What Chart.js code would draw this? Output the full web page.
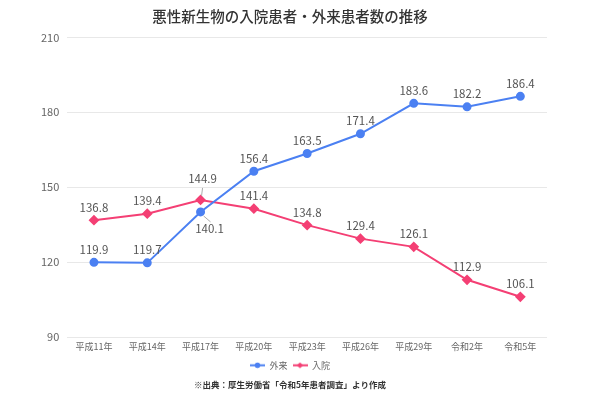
<!DOCTYPE html>
<html>
<head>
<meta charset="utf-8">
<script src="https://cdn.jsdelivr.net/npm/chart.js@4"></script>
<style>
  html, body { margin: 0; padding: 0; background: #fff; }
  #wrap { width: 592px; height: 405px; }
</style>
</head>
<body>
<div id="wrap"><canvas id="chart"></canvas></div>
<script>
var FONT = "'Noto Sans CJK JP', 'Noto Sans', sans-serif";

var years = ['平成11年', '平成14年', '平成17年', '平成20年', '平成23年', '平成26年', '平成29年', '令和2年', '令和5年'];
var outpatient = [119.9, 119.7, 140.1, 156.4, 163.5, 171.4, 183.6, 182.2, 186.4];
var inpatient = [136.8, 139.4, 144.9, 141.4, 134.8, 129.4, 126.1, 112.9, 106.1];
var yTicks = [90, 120, 150, 180, 210];

var BLUE = '#4b80f2';
var PINK = '#f43f74';

// legend marker: short line with the point style in the middle
function legendIcon(color, diamond) {
    var c = document.createElement('canvas');
    c.width = 15; c.height = 7;
    var g = c.getContext('2d');
    g.strokeStyle = color;
    g.lineWidth = 2;
    g.beginPath(); g.moveTo(0, 3.5); g.lineTo(15, 3.5); g.stroke();
    g.fillStyle = color;
    g.beginPath();
    if (diamond) {
        g.moveTo(7.5, 0.5); g.lineTo(10.5, 3.5); g.lineTo(7.5, 6.5); g.lineTo(4.5, 3.5);
    } else {
        g.arc(7.5, 3.5, 2.8, 0, Math.PI * 2);
    }
    g.fill();
    return c;
}

// label tweaks where the two lines cross
var labelMove = {
    '0-2': { dx: 9, dy: 17 },
    '1-2': { dx: 2, dy: -21 }
};

var valueLabels = {
    id: 'valueLabels',
    afterDatasetsDraw: function (chart) {
        var ctx = chart.ctx;
        ctx.save();
        ctx.font = '11.5px ' + FONT;
        ctx.fillStyle = '#555';
        ctx.textAlign = 'center';
        ctx.textBaseline = 'middle';
        chart.data.datasets.forEach(function (ds, di) {
            chart.getDatasetMeta(di).data.forEach(function (pt, i) {
                var m = labelMove[di + '-' + i];
                var x = pt.x, y = pt.y - 13;
                if (m) {
                    x = pt.x + m.dx; y = pt.y + m.dy;
                    ctx.strokeStyle = '#aaa';
                    ctx.lineWidth = 1;
                    ctx.beginPath();
                    if (m.dy > 0) {
                        ctx.moveTo(pt.x + 3, pt.y + 4); ctx.lineTo(x + 1, y - 7);
                    } else {
                        ctx.moveTo(pt.x + 1, pt.y - 4); ctx.lineTo(x, y + 9);
                    }
                    ctx.stroke();
                }
                ctx.fillText(ds.data[i].toFixed(1), x, y);
            });
        });
        ctx.restore();
    }
};

new Chart(document.getElementById('chart'), {
    type: 'line',
    data: {
        labels: years,
        datasets: [
            {
                label: '外来',
                data: outpatient,
                borderColor: BLUE,
                backgroundColor: BLUE,
                borderWidth: 2,
                pointRadius: 3.5,
                pointStyle: 'circle',
                pointIcon: legendIcon(BLUE, false),
                tension: 0
            },
            {
                label: '入院',
                data: inpatient,
                borderColor: PINK,
                backgroundColor: PINK,
                borderWidth: 2,
                pointRadius: 4,
                pointStyle: 'rectRot',
                pointIcon: legendIcon(PINK, true),
                tension: 0
            }
        ]
    },
    options: {
        responsive: true,
        maintainAspectRatio: false,
        animation: false,
        layout: { padding: { left: 33, right: 45, top: 0, bottom: 11 } },
        plugins: {
            title: {
                display: true,
                text: '悪性新生物の入院患者・外来患者数の推移',
                color: '#333',
                font: { family: FONT, size: 14.5, weight: '500' },
                padding: { top: 8, bottom: 12 }
            },
            subtitle: {
                display: true,
                position: 'bottom',
                text: '※出典：厚生労働省「令和5年患者調査」より作成',
                color: '#333',
                font: { family: FONT, size: 8.5, weight: 'bold' },
                padding: { top: 0, bottom: 4 }
            },
            legend: {
                position: 'bottom',
                labels: {
                    usePointStyle: true,
                    pointStyleWidth: 15,
                    color: '#666',
                    font: { family: FONT, size: 9 },
                    padding: 5,
                    generateLabels: function (chart) {
                        return chart.data.datasets.map(function (ds, i) {
                            return {
                                text: ds.label,
                                pointStyle: ds.pointIcon,
                                fontColor: '#666',
                                hidden: false,
                                datasetIndex: i
                            };
                        });
                    }
                }
            },
            tooltip: { enabled: false }
        },
        scales: {
            x: {
                offset: true,
                grid: { display: false, drawTicks: false },
                border: { display: false },
                ticks: { color: '#666', font: { family: FONT, size: 9 }, maxRotation: 0, autoSkip: false, padding: 4 }
            },
            y: {
                min: 90,
                max: 210,
                afterBuildTicks: function (axis) {
                    axis.ticks = yTicks.map(function (v) { return { value: v }; });
                },
                grid: { color: '#e8e8e8', drawTicks: false },
                border: { display: false },
                ticks: { color: '#666', font: { family: FONT, size: 11 }, padding: 8 }
            }
        }
    },
    plugins: [valueLabels]
});
</script>
</body>
</html>
